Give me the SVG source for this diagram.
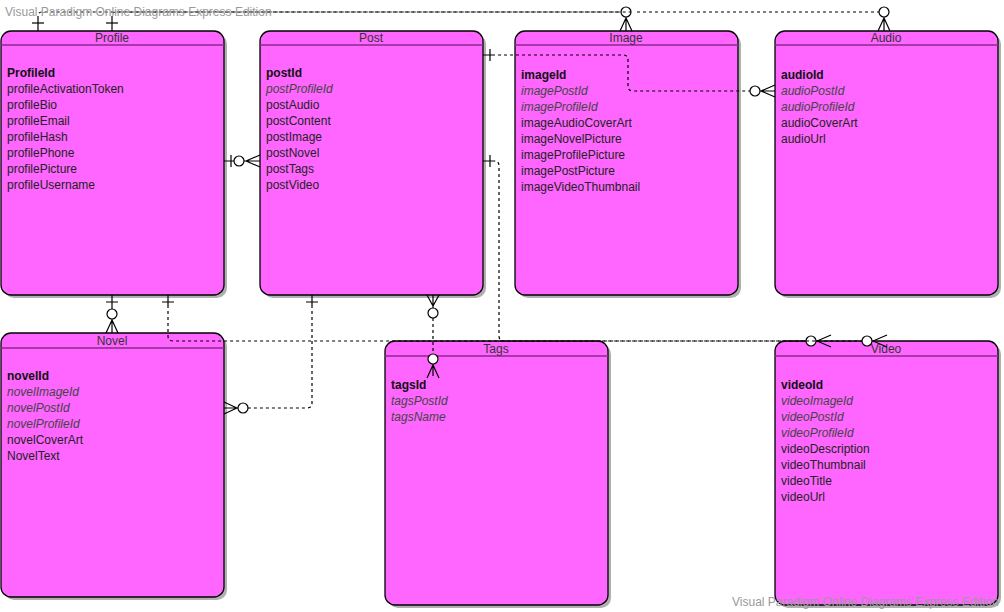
<svg xmlns="http://www.w3.org/2000/svg" width="1004" height="612" viewBox="0 0 1004 612">
<style>
.box{fill:#ff66ff;stroke:#000;stroke-width:1.3}
.shadow{fill:#b0b0b0}
.sep{stroke:#8a2a8a;stroke-width:1.3}
.title{font-family:"Liberation Sans",Arial,sans-serif;font-size:12px;fill:#333;text-anchor:middle}
.attr{font-family:"Liberation Sans",Arial,sans-serif;font-size:12px;fill:#222}
.pk{font-weight:bold;fill:#111}
.fk{font-style:italic;fill:#444}
.wm{font-family:"Liberation Sans",Arial,sans-serif;font-size:12px;fill:#999}
.dash{fill:none;stroke:#000;stroke-width:1.2;stroke-dasharray:3 3}
.solid{fill:none;stroke:#000;stroke-width:1.2}
.circ{fill:#fff;stroke:#000;stroke-width:1.2}
</style>
<rect width="1004" height="612" fill="#fff"/>

<g id="Profile">
<rect class="shadow" x="4" y="34" width="223" height="264" rx="10"/>
<rect class="box" x="1" y="31" width="223" height="264" rx="10"/>
<line class="sep" x1="1" y1="45" x2="224" y2="45"/>
<text class="title" x="112" y="42">Profile</text>
<text class="attr" x="7" y="77"><tspan class="pk">ProfileId</tspan><tspan x="7" dy="16">profileActivationToken</tspan><tspan x="7" dy="16">profileBio</tspan><tspan x="7" dy="16">profileEmail</tspan><tspan x="7" dy="16">profileHash</tspan><tspan x="7" dy="16">profilePhone</tspan><tspan x="7" dy="16">profilePicture</tspan><tspan x="7" dy="16">profileUsername</tspan></text>
</g>

<g id="Post">
<rect class="shadow" x="263" y="34" width="223" height="264" rx="10"/>
<rect class="box" x="260" y="31" width="223" height="264" rx="10"/>
<line class="sep" x1="260" y1="45" x2="483" y2="45"/>
<text class="title" x="371" y="42">Post</text>
<text class="attr" x="266" y="77"><tspan class="pk">postId</tspan><tspan x="266" dy="16" class="fk">postProfileId</tspan><tspan x="266" dy="16">postAudio</tspan><tspan x="266" dy="16">postContent</tspan><tspan x="266" dy="16">postImage</tspan><tspan x="266" dy="16">postNovel</tspan><tspan x="266" dy="16">postTags</tspan><tspan x="266" dy="16">postVideo</tspan></text>
</g>

<g id="Image">
<rect class="shadow" x="518" y="34" width="223" height="264" rx="10"/>
<rect class="box" x="515" y="31" width="223" height="264" rx="10"/>
<line class="sep" x1="515" y1="45" x2="738" y2="45"/>
<text class="title" x="626" y="42">Image</text>
<text class="attr" x="521" y="79"><tspan class="pk">imageId</tspan><tspan x="521" dy="16" class="fk">imagePostId</tspan><tspan x="521" dy="16" class="fk">imageProfileId</tspan><tspan x="521" dy="16">imageAudioCoverArt</tspan><tspan x="521" dy="16">imageNovelPicture</tspan><tspan x="521" dy="16">imageProfilePicture</tspan><tspan x="521" dy="16">imagePostPicture</tspan><tspan x="521" dy="16">imageVideoThumbnail</tspan></text>
</g>

<g id="Audio">
<rect class="shadow" x="778" y="34" width="223" height="264" rx="10"/>
<rect class="box" x="775" y="31" width="223" height="264" rx="10"/>
<line class="sep" x1="775" y1="45" x2="998" y2="45"/>
<text class="title" x="886" y="42">Audio</text>
<text class="attr" x="781" y="79"><tspan class="pk">audioId</tspan><tspan x="781" dy="16" class="fk">audioPostId</tspan><tspan x="781" dy="16" class="fk">audioProfileId</tspan><tspan x="781" dy="16">audioCoverArt</tspan><tspan x="781" dy="16">audioUrl</tspan></text>
</g>

<g id="Novel">
<rect class="shadow" x="4" y="336" width="223" height="264" rx="10"/>
<rect class="box" x="1" y="333" width="223" height="264" rx="10"/>
<line class="sep" x1="1" y1="348" x2="224" y2="348"/>
<text class="title" x="112" y="345">Novel</text>
<text class="attr" x="7" y="380"><tspan class="pk">novelId</tspan><tspan x="7" dy="16" class="fk">novelImageId</tspan><tspan x="7" dy="16" class="fk">novelPostId</tspan><tspan x="7" dy="16" class="fk">novelProfileId</tspan><tspan x="7" dy="16">novelCoverArt</tspan><tspan x="7" dy="16">NovelText</tspan></text>
</g>

<g id="Tags">
<rect class="shadow" x="388" y="344" width="223" height="264" rx="10"/>
<rect class="box" x="385" y="341" width="223" height="264" rx="10"/>
<line class="sep" x1="385" y1="356" x2="608" y2="356"/>
<text class="title" x="496" y="353">Tags</text>
<text class="attr" x="391" y="389"><tspan class="pk">tagsId</tspan><tspan x="391" dy="16" class="fk">tagsPostId</tspan><tspan x="391" dy="16" class="fk">tagsName</tspan></text>
</g>

<g id="Video">
<rect class="shadow" x="778" y="344" width="223" height="264" rx="10"/>
<rect class="box" x="775" y="341" width="223" height="264" rx="10"/>
<line class="sep" x1="775" y1="356" x2="998" y2="356"/>
<text class="title" x="886" y="353">Video</text>
<text class="attr" x="781" y="389"><tspan class="pk">videoId</tspan><tspan x="781" dy="16" class="fk">videoImageId</tspan><tspan x="781" dy="16" class="fk">videoPostId</tspan><tspan x="781" dy="16" class="fk">videoProfileId</tspan><tspan x="781" dy="16">videoDescription</tspan><tspan x="781" dy="16">videoThumbnail</tspan><tspan x="781" dy="16">videoTitle</tspan><tspan x="781" dy="16">videoUrl</tspan></text>
</g>

<g id="connectors">
<!-- Profile -> Image (top) -->
<path class="solid" d="M38,31 V19"/>
<path class="dash" d="M38,19 V16 Q38,12 42,12 H621"/>
<line class="solid" x1="32" y1="23" x2="44" y2="23"/>
<circle class="circ" cx="626" cy="12" r="5"/>
<path class="solid" d="M626,18 L620,31 M626,18 L632,31 M626,17 V31"/>
<!-- Profile -> Audio (top) -->
<path class="solid" d="M112,31 V19"/>
<path class="dash" d="M112,19 V16 Q112,12 116,12 H631 M637,12 H879"/>
<line class="solid" x1="106" y1="23" x2="118" y2="23"/>
<circle class="circ" cx="884" cy="12" r="5"/>
<path class="solid" d="M884,18 L878,31 M884,18 L890,31 M884,17 V31"/>
<!-- Profile -> Post -->
<path class="solid" d="M224,161 H234 M231,155 V167"/>
<circle class="circ" cx="239" cy="161" r="5"/>
<path class="solid" d="M246,161 L260,155 M246,161 L260,167 M244,161 H260"/>
<!-- Post -> Audio -->
<path class="solid" d="M483,55 H492 M490,49 V61"/>
<path class="dash" d="M492,55 H623 Q628,55 628,60 V86 Q628,91 633,91 H750"/>
<circle class="circ" cx="755" cy="91" r="5"/>
<path class="solid" d="M761,91 L775,85 M761,91 L775,97 M760,91 H775"/>
<!-- Post -> Video -->
<path class="solid" d="M483,161 H492 M490,155 V167"/>
<path class="dash" d="M492,161 H494 Q499,161 499,166 V336 Q499,341 504,341 H806"/>
<circle class="circ" cx="811" cy="341" r="5"/>
<path class="solid" d="M817,341 L831,335 M817,341 L831,347"/>
<!-- Profile -> Video -->
<path class="solid" d="M168,295 V305 M162,302 H174"/>
<path class="dash" d="M168,305 V336 Q168,341 173,341 H862"/>
<circle class="circ" cx="867" cy="341" r="5"/>
<path class="solid" d="M873,341 L887,335 M873,341 L887,347"/>
<!-- Profile -> Novel -->
<path class="solid" d="M112,295 V309 M106,302 H118"/>
<circle class="circ" cx="112" cy="314" r="5"/>
<path class="solid" d="M112,320 L106,333 M112,320 L118,333 M112,319 V333"/>
<!-- Post -> Novel -->
<path class="solid" d="M312,295 V305 M306,302 H318"/>
<path class="dash" d="M312,305 V403 Q312,408 307,408 H248"/>
<circle class="circ" cx="243" cy="408" r="5"/>
<path class="solid" d="M237,408 L224,402 M237,408 L224,414 M238,408 H224"/>
<!-- Post -> Tags -->
<path class="solid" d="M427,295 L433,306 L439,295 M433,295 V308"/>
<circle class="circ" cx="433" cy="313" r="5"/>
<path class="dash" d="M433,318 V354"/>
<circle class="circ" cx="433" cy="359" r="5"/>
<path class="solid" d="M433,365 L427,378 M433,365 L439,378 M433,364 V376"/>
</g>

<text class="wm" x="5" y="16">Visual Paradigm Online Diagrams Express Edition</text>
<text class="wm" x="732" y="606">Visual Paradigm Online Diagrams Express Edition</text>
</svg>
